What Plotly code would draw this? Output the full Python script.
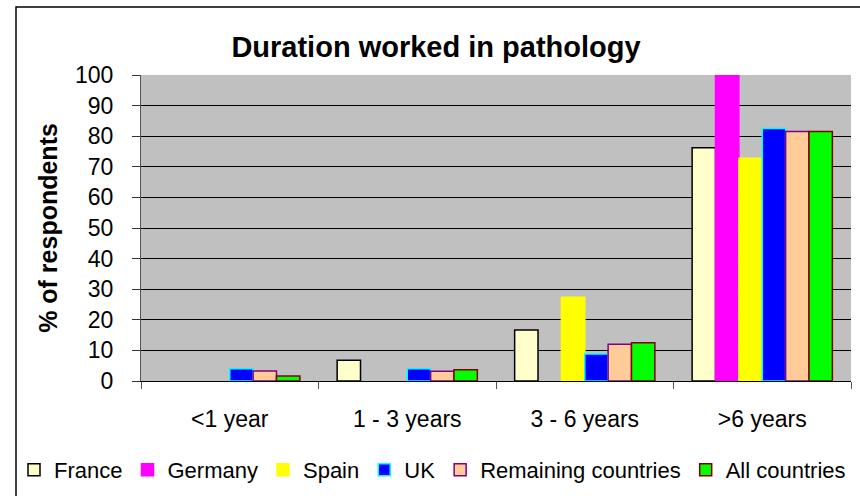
import plotly.graph_objects as go

categories = ["<1 year", "1 - 3 years", "3 - 6 years", ">6 years"]
series_names = ["France", "Germany", "Spain", "UK", "Remaining countries", "All countries"]
france = [None, 6.8, 16.7, 76.2]
germany = [None, None, None, 100]
spain = [None, None, 27.4, 72.8]
uk = [4.0, 4.0, 8.8, 82.5]
remaining = [3.3, 3.2, 12.0, 81.5]
all_countries = [1.6, 3.7, 12.5, 81.5]

values = [france, germany, spain, uk, remaining, all_countries]
fills = ["#FFFFCC", "#FF00FF", "#FFFF00", "#0000FF", "#FFCC99", "#00FF00"]
lines = ["#000000", "#FF00FF", "#FFFF00", "#00FFFF", "#800080", "#800000"]

W, H = 860, 496
L, R, T, B = 141, 851, 75, 381

def px(x):
    return (x - L) / (R - L)

def py(y):
    return (B - y) / (B - T)

fig = go.Figure()
for name, vals, fc, lc in zip(series_names, values, fills, lines):
    fig.add_trace(go.Bar(
        x=categories, y=vals, name=name,
        marker=dict(color=fc, line=dict(color=lc, width=1.5)),
    ))

font = "Liberation Sans, Arial, sans-serif"
fig.update_layout(
    width=W, height=H,
    margin=dict(l=L, r=W - R, t=T, b=H - B, autoexpand=False),
    paper_bgcolor="white",
    plot_bgcolor="#C0C0C0",
    barmode="group",
    bargap=0.21,
    bargroupgap=0,
    font=dict(family=font, size=23, color="black"),
    title=dict(text="<b>Duration worked in pathology</b>", x=436 / W, xanchor="center",
               y=1 - 47 / H, yanchor="middle", yref="container",
               font=dict(size=29, family=font, color="black")),
    showlegend=True,
    legend=dict(orientation="h", x=px(14), xanchor="left", y=py(470), yanchor="middle",
                font=dict(size=22, family=font), bgcolor="rgba(0,0,0,0)",
                itemwidth=30, traceorder="normal", tracegroupgap=0),
    xaxis=dict(type="category", tickson="boundaries", ticks="outside", ticklen=7,
               tickcolor="#555", showline=True, linecolor="black", linewidth=1,
               showgrid=False, ticklabelstandoff=17, tickfont=dict(size=23)),
    yaxis=dict(range=[0, 100], dtick=10, tick0=0, ticks="outside", ticklen=8,
               tickcolor="#333", showline=True, linecolor="#555", linewidth=1,
               gridcolor="black", gridwidth=1, zeroline=False,
               ticklabelstandoff=14, tickfont=dict(size=23),
               title=dict(text="<b>% of respondents</b>", font=dict(size=25), standoff=10)),
    shapes=[dict(type="rect", xref="paper", yref="paper",
                 x0=px(16), x1=px(864), y0=py(500), y1=py(7),
                 line=dict(color="black", width=1.5), fillcolor="rgba(0,0,0,0)", layer="below")],
)

fig.write_html("out.html", config={"displayModeBar": False},
               post_script="document.body.style.margin='0px';")
